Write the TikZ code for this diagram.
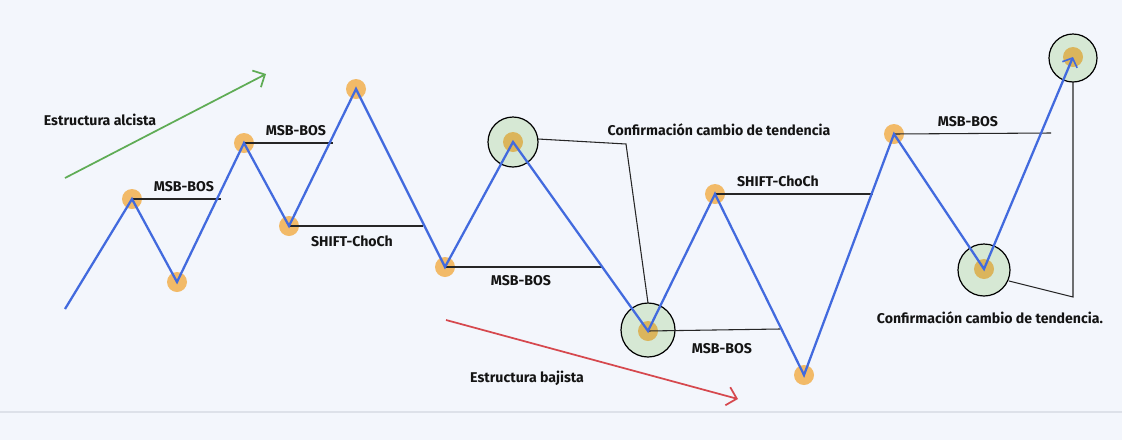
\documentclass[tikz,border=0pt]{standalone}
\usepackage{fontspec}
\setmainfont{Fira Sans}
\usetikzlibrary{arrows.meta}
\definecolor{bgc}{RGB}{243,246,252}
\definecolor{sepc}{RGB}{221,225,233}
\definecolor{bluel}{RGB}{66,106,222}
\definecolor{dotc}{RGB}{242,186,104}
\definecolor{dotin}{RGB}{219,181,92}
\definecolor{ringc}{RGB}{214,232,212}
\definecolor{greenc}{RGB}{95,172,85}
\definecolor{redc}{RGB}{214,72,78}
\definecolor{txtc}{RGB}{20,20,20}
\tikzset{
  dot/.style={circle,fill=dotc,inner sep=0pt,minimum size=15pt},
  dotinner/.style={circle,fill=dotin,inner sep=0pt,minimum size=15pt},
  ring/.style={circle,draw=black,line width=0.9pt,fill=ringc,inner sep=0pt},
  zig/.style={draw=bluel,line width=1.7pt,line join=miter},
  conn/.style={draw=black!85,line width=0.8pt},
  lbl/.style={text=txtc,font=\fontsize{10.6}{12.5}\selectfont\bfseries,inner sep=0pt},
  trend/.style={line width=1.3pt,-{Straight Barb[length=7pt,width=14pt,line width=1.3pt]}},
}
\begin{document}
\begin{tikzpicture}[x=0.75pt,y=-0.75pt]
\useasboundingbox (0,0) rectangle (1122,440);
\fill[bgc] (0,0) rectangle (1122,440);
\draw[sepc,line width=0.8pt] (0,412) -- (1122,412);

% rings
\node[ring,minimum size=37.5pt] (r7) at (513,142) {};
\node[ring,minimum size=40.5pt] (r8) at (648,330) {};
\node[ring,minimum size=39pt] (r12) at (984,270) {};
\node[ring,minimum size=36pt] (r13) at (1073,58) {};

% dots
\node[dot] (p1) at (132,199) {};
\node[dot] (p2) at (177,282) {};
\node[dot] (p3) at (244,143) {};
\node[dot] (p4) at (289,226) {};
\node[dot] (p5) at (356,89) {};
\node[dot] (p6) at (445,267) {};
\node[dotinner] (p7) at (513,142) {};
\node[dotinner] (p8) at (648,331) {};
\node[dot] (p9) at (715,194) {};
\node[dot] (p10) at (804,375) {};
\node[dot] (p11) at (894,134) {};
\node[dotinner] (p12) at (984,269) {};
\node[dotinner] (p13) at (1073,57) {};

% free ends
\coordinate (s0) at (65,309);
\coordinate (e1) at (221,199);
\coordinate (e3) at (333,143);
\coordinate (e4) at (423,226);
\coordinate (e6) at (602,267);
\coordinate (c7a) at (538,139);
\coordinate (c7b) at (626,144);
\coordinate (c7c) at (648,303);
\coordinate (e8) at (780,329);
\coordinate (e9) at (873,194);
\coordinate (e11) at (1051,133);
\coordinate (c12a) at (1009,281);
\coordinate (c12b) at (1073,297);
\coordinate (c13) at (1073,82);

% connector lines
\draw[conn] (p1.center) -- (e1);
\draw[conn] (p3.center) -- (e3);
\draw[conn] (p4.center) -- (e4);
\draw[conn] (p6.center) -- (e6);
\draw[conn] (c7a) -- (c7b) -- (c7c);
\draw[conn] (p8.center) -- (e8);
\draw[conn] (p9.center) -- (e9);
\draw[conn] (p11.center) -- (e11);
\draw[conn] (c12a) -- (c12b) -- (c13);

% zigzag
\draw[zig,-{Straight Barb[length=5.5pt,width=12pt,line width=1.2pt]}] (s0) -- (p1.center) -- (p2.center) -- (p3.center) -- (p4.center) -- (p5.center) -- (p6.center) -- (p7.center) -- (p8.center) -- (p9.center) -- (p10.center) -- (p11.center) -- (p12.center) -- (p13.center);

% trend arrows
\coordinate (ga) at (65,178);
\coordinate (gb) at (266,74);
\draw[trend,greenc] (ga) -- (gb);
\coordinate (ra) at (446,320);
\coordinate (rb) at (738,399);
\draw[trend,redc] (ra) -- (rb);

% labels
\node[lbl] (t1) at (100,120) {Estructura alcista};
\node[lbl] (t2) at (184,187) {MSB-BOS};
\node[lbl] (t3) at (296,131) {MSB-BOS};
\node[lbl] (t4) at (352,241) {SHIFT-ChoCh};
\node[lbl] (t5) at (521,281) {MSB-BOS};
\node[lbl] (t6) at (719,130) {Confirmación cambio de tendencia};
\node[lbl] (t7) at (778,181) {SHIFT-ChoCh};
\node[lbl] (t8) at (722,349) {MSB-BOS};
\node[lbl] (t9) at (968,122) {MSB-BOS};
\node[lbl] (t10) at (990,318) {Confirmación cambio de tendencia.};
\node[lbl] (t11) at (527,378) {Estructura bajista};
\end{tikzpicture}
\end{document}
